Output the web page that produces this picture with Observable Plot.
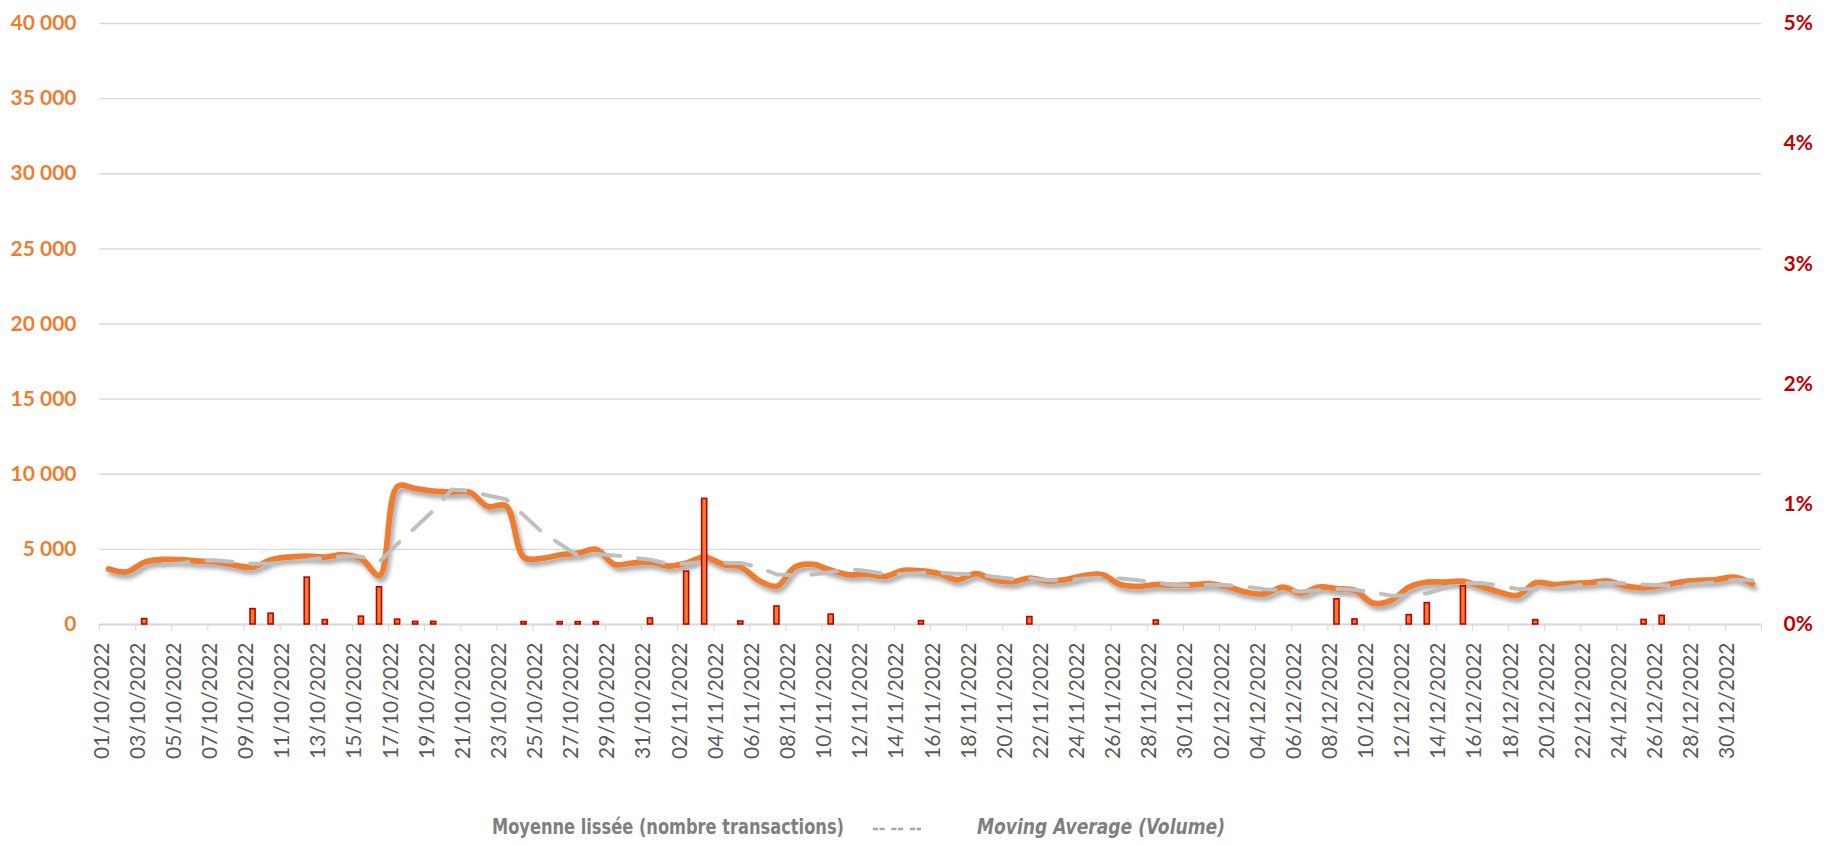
<!DOCTYPE html>
<html>
<head>
<meta charset="utf-8">
<script src="https://cdn.jsdelivr.net/npm/d3@7"></script>
<script src="https://cdn.jsdelivr.net/npm/@observablehq/plot@0.6"></script>
<style>
  html, body { margin: 0; padding: 0; background: #fff; overflow: hidden; }
  #chart svg { display: block; }
  #legend { display: block; }
</style>
</head>
<body>
<div id="chart"></div>
<svg id="legend" width="1829" height="45">
  <text x="492" y="34" textLength="352" lengthAdjust="spacingAndGlyphs" fill="#7F7F7F" font-family="'Liberation Sans Narrow', 'DejaVu Sans Condensed', 'Liberation Sans', sans-serif" font-weight="bold" font-size="21">Moyenne lissée (nombre transactions)</text>
  <line x1="873" y1="29" x2="921" y2="29" stroke="#A6A6A6" stroke-width="2.5" stroke-dasharray="5,1.5,5,7"></line>
  <text x="977" y="34" textLength="248" lengthAdjust="spacingAndGlyphs" fill="#7F7F7F" font-family="'Liberation Sans Narrow', 'DejaVu Sans Condensed', 'Liberation Sans', sans-serif" font-weight="bold" font-style="italic" font-size="21">Moving  Average (Volume)</text>
</svg>
<script>
// ---- Data ----
const days = [
  "01/10/2022","02/10/2022","03/10/2022","04/10/2022","05/10/2022","06/10/2022","07/10/2022","08/10/2022","09/10/2022","10/10/2022",
  "11/10/2022","12/10/2022","13/10/2022","14/10/2022","15/10/2022","16/10/2022","17/10/2022","18/10/2022","19/10/2022","20/10/2022",
  "21/10/2022","22/10/2022","23/10/2022","24/10/2022","25/10/2022","26/10/2022","27/10/2022","28/10/2022","29/10/2022","30/10/2022",
  "31/10/2022",
  "01/11/2022","02/11/2022","03/11/2022","04/11/2022","05/11/2022","06/11/2022","07/11/2022","08/11/2022","09/11/2022","10/11/2022",
  "11/11/2022","12/11/2022","13/11/2022","14/11/2022","15/11/2022","16/11/2022","17/11/2022","18/11/2022","19/11/2022","20/11/2022",
  "21/11/2022","22/11/2022","23/11/2022","24/11/2022","25/11/2022","26/11/2022","27/11/2022","28/11/2022","29/11/2022","30/11/2022",
  "01/12/2022","02/12/2022","03/12/2022","04/12/2022","05/12/2022","06/12/2022","07/12/2022","08/12/2022","09/12/2022","10/12/2022",
  "11/12/2022","12/12/2022","13/12/2022","14/12/2022","15/12/2022","16/12/2022","17/12/2022","18/12/2022","19/12/2022","20/12/2022",
  "21/12/2022","22/12/2022","23/12/2022","24/12/2022","25/12/2022","26/12/2022","27/12/2022","28/12/2022","29/12/2022","30/12/2022",
  "31/12/2022"
];

// Moyenne lissée (nombre transactions) - left axis
const transactions = [
  3700,3500,4150,4330,4310,4220,4170,3930,3820,4310,
  4490,4550,4490,4640,4370,3260,9200,9040,8880,8820,
  8800,7850,7900,4450,4400,4640,4750,5000,4000,4090,
  4150,3890,4090,4490,4000,3820,2930,2550,3820,4000,
  3600,3310,3330,3200,3600,3560,3380,2980,3380,2980,
  2840,3090,2890,2980,3260,3330,2660,2530,2660,2600,
  2640,2710,2490,2150,2040,2490,2090,2490,2380,2260,
  1420,1600,2490,2820,2820,2870,2530,2150,1930,2780,
  2660,2730,2780,2890,2550,2440,2600,2820,2930,2980,
  3150,2710
];

// Grey dashed moving average (left axis)
const movingAverage = [
  null,null,null,
  3920,4070,4250,4260,4160,4035,4060,4140,4290,4460,
  4540,4510,4190,5370,6470,7600,8985,8885,8590,8340,
  7250,6150,5350,4560,4700,4600,4460,4310,4030,4055,
  4155,4120,4100,3810,3325,3280,3325,3490,3680,3560,
  3360,3360,3420,3435,3380,3325,3180,3045,3070,2950,
  2950,3055,3115,3060,2945,2795,2610,2610,2650,2610,
  2500,2350,2290,2190,2280,2360,2305,2140,1915,1940,
  2080,2430,2750,2760,2590,2370,2350,2380,2525,2740,
  2765,2740,2665,2620,2600,2700,2830,2970,2940
];

// Volume (%) - right axis
const volumePct = [
  0,0,0.045,0,0,0,0,0,0.128,0.09,
  0,0.39,0.037,0,0.065,0.31,0.04,0.022,0.022,0,
  0,0,0,0.02,0,0.02,0.02,0.02,0,0,
  0.05,0,0.44,1.045,0,0.025,0,0.15,0,0,
  0.082,0,0,0,0,0.028,0,0,0,0,
  0,0.062,0,0,0,0,0,0,0.033,0,
  0,0,0,0,0,0,0,0,0.21,0.042,
  0,0,0.078,0.178,0,0.318,0,0,0,0.036,
  0,0,0,0,0,0.038,0.072,0,0,0,
  0,0
];

const leftTicks = [0,5000,10000,15000,20000,25000,30000,35000,40000];
const leftLabels = ["0","5 000","10 000","15 000","20 000","25 000","30 000","35 000","40 000"];
const rightTicks = [0,1,2,3,4,5];
const rightLabels = ["0%","1%","2%","3%","4%","5%"];

// ---- Layout / scales ----
const LEFT_MAX = 40000, RIGHT_MAX = 5;
const pctToLeft = p => p * LEFT_MAX / RIGHT_MAX;

const rows = days.map((d, i) => ({i, d, t: transactions[i], ma: movingAverage[i], v: volumePct[i]}));
const labelIdx = rows.filter(r => r.i % 2 === 0).map(r => r.i);
const bounds = rows.filter(r => r.i % 2 === 0).map(r => r.i - 0.5).concat([days.length - 0.5]);

const FONT = "Lato, 'Open Sans', sans-serif";
const ORANGE = "#ED7D31", DARKRED = "#C00000";

const chart = Plot.plot({
  width: 1829,
  height: 800,
  marginLeft: 99,
  marginRight: 68,
  marginTop: 23,
  marginBottom: 176,
  style: {color: "#D9D9D9", background: "white", overflow: "visible"},
  x: {domain: [-0.5, days.length - 0.5], ticks: bounds, tickSize: 7, tickFormat: () => "", label: null, line: false},
  y: {domain: [0, LEFT_MAX], axis: null},
  marks: [
    Plot.ruleY(leftTicks, {y: d => d, stroke: "#D9D9D9", strokeWidth: 1.4}),
    Plot.ruleY([0], {stroke: "#D9D9D9", strokeWidth: 2}),
    Plot.line(rows, {x: "i", y: "t", curve: "catmull-rom", stroke: ORANGE, strokeWidth: 5.8, strokeLinecap: "round", strokeLinejoin: "round"}),
    Plot.line(rows.filter(r => r.ma != null), {x: "i", y: "ma", stroke: "#BFBFBF", strokeWidth: 4, strokeDasharray: "26,18", strokeLinecap: "round"}),
    Plot.rectY(rows.filter(r => r.v > 0), {x1: r => r.i - 0.14, x2: r => r.i + 0.14, y1: 0, y2: r => pctToLeft(r.v), fill: ORANGE, stroke: DARKRED, strokeWidth: 1.6}),
    Plot.text(leftTicks, {frameAnchor: "left", y: d => d, text: (d, i) => leftLabels[i], textAnchor: "end", dx: -23, fill: ORANGE, fontWeight: "bold", fontSize: 21, fontFamily: FONT}),
    Plot.text(rightTicks, {frameAnchor: "right", y: d => pctToLeft(d), text: (d, i) => rightLabels[i], textAnchor: "start", dx: 22, fill: DARKRED, fontWeight: "bold", fontSize: 21, fontFamily: FONT}),
    Plot.text(labelIdx, {x: d => d, frameAnchor: "bottom", text: d => days[d], rotate: -90, textAnchor: "end", dy: 18, fill: "#595959", fontSize: 21, fontFamily: FONT})
  ]
});

// drop shadow under the smoothed orange line
const ns = "http://www.w3.org/2000/svg";
const defs = document.createElementNS(ns, "defs");
defs.innerHTML = '<filter id="lineShadow" x="-5%" y="-20%" width="110%" height="140%"><feDropShadow dx="2.5" dy="4" stdDeviation="2.2" flood-color="#000" flood-opacity="0.35"/></filter>';
chart.insertBefore(defs, chart.firstChild);
const lines = chart.querySelectorAll('g[aria-label="line"]');
if (lines.length) lines[0].setAttribute("filter", "url(#lineShadow)");

document.getElementById("chart").appendChild(chart);
</script>
</body>
</html>
